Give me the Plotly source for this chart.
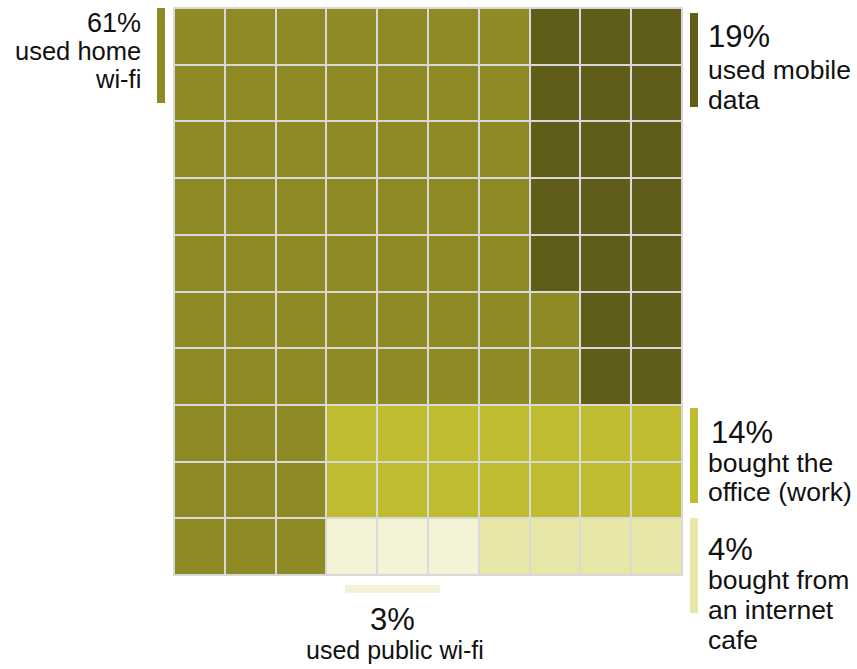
import numpy as np
import plotly.graph_objects as go

# Share of respondents by way of getting online (percent of 100 squares)
categories = ["used home wi-fi", "used mobile data", "bought the office (work)",
              "bought from an internet cafe", "used public wi-fi"]
percent = [61, 19, 14, 4, 3]
pct_labels = ["61%", "19%", "14%", "4%", "3%"]
colors = ["#8e8b25", "#5f5d19", "#bfbc30", "#e8e7a7", "#f3f2d5"]

HOME, MOBILE, OFFICE, CAFE, PUBLIC = range(5)
N = 10

# Build the 10x10 waffle: home wi-fi is the background, other groups are laid in blocks
grid = np.full((N, N), HOME, dtype=int)

# mobile data: fill columns from the right, top to bottom, in the upper 7 rows
left = percent[MOBILE]
for c in range(N - 1, -1, -1):
    for r in range(7):
        if left == 0:
            break
        grid[r, c] = MOBILE
        left -= 1

# bottom row: public wi-fi then internet cafe, starting at column 3
col = 3
for k in (PUBLIC, CAFE):
    for _ in range(percent[k]):
        grid[N - 1, col] = k
        col += 1

# office: fill rows 8 then 7, columns 3..9
left = percent[OFFICE]
for r in (8, 7):
    for c in range(3, N):
        if left == 0:
            break
        grid[r, c] = OFFICE
        left -= 1

W, H = 857, 669
L, R, T, B = 174, 682, 8, 575   # plot area in pixels


def px(x):
    return (x - L) / (R - L)


def py(y):
    return (B - y) / (B - T)


scale = [[i / 4, colors[i]] for i in range(5)]

fig = go.Figure(go.Heatmap(
    z=grid, x=list(range(N)), y=list(range(N)),
    colorscale=scale, zmin=0, zmax=4, showscale=False,
    xgap=2, ygap=2, hoverinfo="skip",
))

FONT = "Liberation Sans, Arial, sans-serif"

ann = []


def text(x, y, s, size, anchor):
    ann.append(dict(x=px(x), y=py(y), xref="paper", yref="paper", text=s,
                    showarrow=False, xanchor=anchor, yanchor="middle",
                    font=dict(family=FONT, size=size, color="#111111")))


# home wi-fi (left, right-aligned)
text(143, 23, pct_labels[HOME], 27, "right")
text(143, 51, "used home", 25.5, "right")
text(143, 79, "wi-fi", 25.5, "right")

# mobile data
text(706, 36, pct_labels[MOBILE], 31, "left")
text(706, 70, "used mobile", 26.5, "left")
text(706, 100, "data", 26.5, "left")

# office
text(709, 432, pct_labels[OFFICE], 31, "left")
text(706, 463, "bought the", 26.5, "left")
text(706, 492, "office (work)", 26.5, "left")

# internet cafe
text(706, 549, pct_labels[CAFE], 31, "left")
text(706, 580, "bought from", 26.5, "left")
text(706, 610, "an internet", 26.5, "left")
text(706, 640, "cafe", 26.5, "left")

# public wi-fi (below)
text(392, 619, pct_labels[PUBLIC], 31, "center")
text(395, 650, "used public wi-fi", 25, "center")

shapes = []


def bar(x0, y0, x1, y1, color):
    shapes.append(dict(type="rect", xref="paper", yref="paper",
                       x0=px(x0), x1=px(x1), y0=py(y1), y1=py(y0),
                       fillcolor=color, line=dict(width=0), layer="above"))


bar(157, 8, 165, 103, colors[HOME])
bar(690, 13, 698, 107, colors[MOBILE])
bar(690, 408, 698, 503, colors[OFFICE])
bar(690, 518, 698, 613, colors[CAFE])
bar(345, 585, 440, 593, colors[PUBLIC])

# thin grey frame around the waffle
shapes.append(dict(type="rect", xref="paper", yref="paper", x0=0, x1=1, y0=0, y1=1,
                   line=dict(color="#d9d9d9", width=2), fillcolor="rgba(0,0,0,0)",
                   layer="above"))

fig.update_layout(
    width=W, height=H,
    margin=dict(l=L, r=W - R, t=T, b=H - B),
    paper_bgcolor="white", plot_bgcolor="#d9d9d9",
    xaxis=dict(visible=False, range=[-0.5, N - 0.5], fixedrange=True),
    yaxis=dict(visible=False, range=[N - 0.5, -0.5], fixedrange=True),
    annotations=ann, shapes=shapes,
)

fig.write_html("out.html")
